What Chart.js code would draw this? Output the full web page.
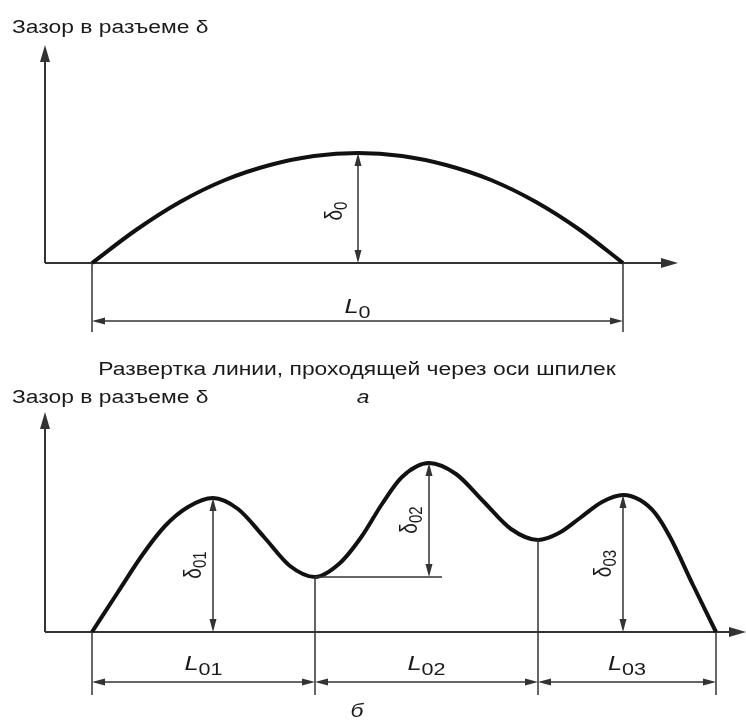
<!DOCTYPE html>
<html lang="ru">
<head>
<meta charset="utf-8">
<title>Зазор в разъеме</title>
<script src="https://cdn.jsdelivr.net/npm/chart.js@4/dist/chart.umd.min.js"></script>
<style>
  html, body { margin: 0; padding: 0; background: #fff; }
  #wrap { position: relative; width: 746px; height: 725px; overflow: hidden; }
  canvas { position: absolute; left: 0; }
  #cA { top: 0; }
  #cB { top: 380px; }
</style>
</head>
<body>
<div id="wrap">
  <canvas id="cA" width="746" height="410"></canvas>
  <canvas id="cB" width="746" height="345"></canvas>
</div>
<script>
// а) одна выпуклость: длина развертки (усл. ед.) и зазор δ (усл. ед.)
const lenA = [4.7, 9.1, 13.5, 18.0, 22.5, 26.9, 31.3, 35.7, 40.1, 44.6, 49.1, 53.5, 57.8];
const gapA = [0, 3.3, 6.1, 8.3, 9.8, 10.7, 11.0, 10.7, 9.8, 8.3, 6.1, 3.3, 0];
const peakA = 6;

// б) три выпуклости
const lenB = [4.7, 7.3, 9.8, 12.0, 14.3, 16.8, 19.3, 21.9, 24.5, 27.0, 29.5, 31.7, 33.7, 35.7,
              38.4, 41.1, 43.8, 46.6, 49.3, 51.4, 53.5, 55.7, 57.8, 59.5, 61.0, 62.5, 64.8, 67.1];
const gapB = [0, 4.0, 7.8, 10.6, 12.5, 13.4, 12.3, 9.5, 6.6, 5.5, 6.9, 9.6, 12.8, 15.5,
              16.9, 15.8, 13.1, 10.3, 9.2, 9.9, 11.4, 13.0, 13.7, 13.2, 11.9, 9.5, 4.7, 0];
const peaksB = [5, 14, 22];          // вершины δ01, δ02, δ03
const deltaBaseB = [null, 9, null];  // от чего отсчитан зазор (null - от оси)
const boundsB = [0, 9, 18, 27];      // границы участков L01..L03
const subsB = ['01', '02', '03'];

const INK = '#111';
const GREY = '#333';
const FONT = '"Liberation Sans", Arial, sans-serif';
const STRETCH = 1.27;

function seg(ctx, x1, y1, x2, y2, w) {
  ctx.save();
  ctx.strokeStyle = GREY; ctx.lineWidth = w || 1.5;
  ctx.beginPath(); ctx.moveTo(x1, y1); ctx.lineTo(x2, y2); ctx.stroke();
  ctx.restore();
}

function head(ctx, x, y, dx, dy, len, half) {
  ctx.save();
  ctx.fillStyle = GREY;
  ctx.beginPath();
  ctx.moveTo(x, y);
  ctx.lineTo(x - dx * len - dy * half, y - dy * len + dx * half);
  ctx.lineTo(x - dx * len + dy * half, y - dy * len - dx * half);
  ctx.closePath(); ctx.fill();
  ctx.restore();
}

function dim(ctx, x1, y1, x2, y2) {
  const l = Math.hypot(x2 - x1, y2 - y1), dx = (x2 - x1) / l, dy = (y2 - y1) / l;
  seg(ctx, x1 + dx * 6, y1 + dy * 6, x2 - dx * 6, y2 - dy * 6);
  head(ctx, x2, y2, dx, dy, 13, 3.5);
  head(ctx, x1, y1, -dx, -dy, 13, 3.5);
}

function txt(ctx, s, x, y, style, align) {
  ctx.save();
  ctx.font = (style || '') + ' 18px ' + FONT;
  ctx.fillStyle = '#1a1a1a';
  ctx.textBaseline = 'alphabetic';
  const w = ctx.measureText(s).width * STRETCH;
  ctx.translate(align === 'center' ? x - w / 2 : x, y);
  ctx.scale(STRETCH, 1);
  ctx.fillText(s, 0, 0);
  ctx.restore();
}

// обозначение с индексом; rot - повернуть вдоль размерной линии
function label(ctx, main, sub, cx, cy, italic, rot) {
  const mf = (italic ? 'italic ' : '') + (rot ? '19px ' : '20px ') + FONT;
  const sf = (rot ? '15px ' : '17px ') + FONT;
  ctx.save();
  ctx.fillStyle = '#1a1a1a';
  ctx.textBaseline = 'alphabetic';
  ctx.font = mf; const wm = ctx.measureText(main).width;
  ctx.font = sf; const ws = ctx.measureText(sub).width;
  ctx.translate(cx, cy);
  ctx.scale(STRETCH, 1);
  if (rot) ctx.rotate(-Math.PI / 2);
  const x0 = -(wm + ws) / 2, b = rot ? 5 : 0;
  ctx.font = mf; ctx.fillText(main, x0, b);
  ctx.font = sf; ctx.fillText(sub, x0 + wm, b + (rot ? 4 : 5));
  ctx.restore();
}

function axes(chart) {
  const { ctx, chartArea: a, scales: { x, y } } = chart;
  const ox = x.getPixelForValue(0), oy = y.getPixelForValue(0);
  seg(ctx, ox, oy, ox, a.top + 12, 2);
  seg(ctx, ox, oy, a.right - 12, oy, 2);
  head(ctx, ox, a.top, 0, -1, 17, 5);
  head(ctx, a.right, oy, 1, 0, 17, 5);
}

function drawA(chart) {
  const { ctx, scales: { x, y } } = chart;
  const yb = y.getPixelForValue(0);
  const xL = x.getPixelForValue(lenA[0]);
  const xR = x.getPixelForValue(lenA[lenA.length - 1]);
  const xp = x.getPixelForValue(lenA[peakA]);
  const yp = y.getPixelForValue(gapA[peakA]);

  dim(ctx, xp, yp, xp, yb);
  label(ctx, 'δ', '0', xp - 22, (yp + yb) / 2 + 3, false, true);

  seg(ctx, xL, yb, xL, yb + 69);
  seg(ctx, xR, yb, xR, yb + 69);
  dim(ctx, xL, yb + 58, xR, yb + 58);
  label(ctx, 'L', '0', (xL + xR) / 2, yb + 50, true, false);

  txt(ctx, 'Зазор в разъеме δ', 12, 33);
  txt(ctx, 'Развертка линии, проходящей через оси шпилек', 357, 375, '', 'center');
  txt(ctx, 'а', 363, 403, 'italic', 'center');
}

function drawB(chart) {
  const { ctx, scales: { x, y } } = chart;
  const yb = y.getPixelForValue(0);
  const px = i => x.getPixelForValue(lenB[i]);
  const py = i => y.getPixelForValue(gapB[i]);

  boundsB.forEach(i => seg(ctx, px(i), py(i), px(i), yb + 63));
  subsB.forEach((s, k) => {
    const a = px(boundsB[k]), b = px(boundsB[k + 1]);
    dim(ctx, a, yb + 50, b, yb + 50);
    label(ctx, 'L', s, (a + b) / 2, yb + 38, true, false);
  });

  peaksB.forEach((i, k) => {
    const base = deltaBaseB[k];
    const y0 = base === null ? yb : py(base);
    if (base !== null) seg(ctx, px(base), y0, px(i) + 13, y0);
    dim(ctx, px(i), py(i), px(i), y0);
    label(ctx, 'δ', subsB[k], px(i) - 18, (py(i) + y0) / 2, false, true);
  });

  txt(ctx, 'Зазор в разъеме δ', 12, 23);
  txt(ctx, 'б', 357, 337, 'italic', 'center');
}

function makeChart(id, xs, ys, xMax, yMax, pad, draw) {
  return new Chart(document.getElementById(id), {
    type: 'line',
    data: {
      datasets: [{
        data: xs.map((v, i) => ({ x: v, y: ys[i] })),
        borderColor: INK,
        borderWidth: 4,
        pointRadius: 0,
        cubicInterpolationMode: 'monotone',
        fill: false,
        clip: false
      }]
    },
    options: {
      responsive: false,
      animation: false,
      devicePixelRatio: 1,
      layout: { padding: pad },
      scales: {
        x: { type: 'linear', min: 0, max: xMax, display: false },
        y: { type: 'linear', min: 0, max: yMax, display: false }
      },
      plugins: { legend: { display: false }, tooltip: { enabled: false } }
    },
    plugins: [{ id: 'sketch', beforeDatasetsDraw: axes, afterDatasetsDraw: draw }]
  });
}

makeChart('cA', lenA, gapA, 63.3, 21.8, { left: 45, right: 68, top: 45, bottom: 147 }, drawA);
makeChart('cB', lenB, gapB, 70.1, 22.0, { left: 45, right: 0, top: 32, bottom: 93 }, drawB);
</script>
</body>
</html>
